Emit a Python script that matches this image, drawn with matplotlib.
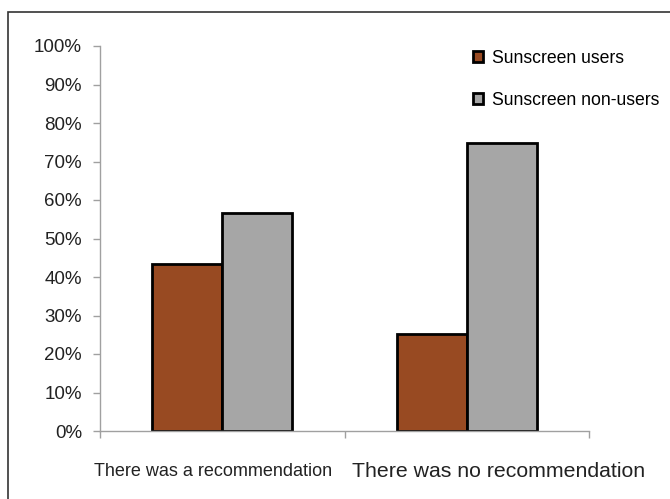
import matplotlib
matplotlib.use('Agg')
import matplotlib.pyplot as plt
from matplotlib.patches import Rectangle
from matplotlib.ticker import PercentFormatter

# data
categories = ['There was a recommendation', 'There was no recommendation']
users = [43.5, 25.3]
non_users = [56.5, 74.7]
yticks = [0, 10, 20, 30, 40, 50, 60, 70, 80, 90, 100]

brown = '#984A22'
grey = '#A6A6A6'
axis_grey = '#A0A0A0'
plt.rcParams['font.family'] = ['Liberation Sans', 'DejaVu Sans']

fig = plt.figure(figsize=(6.7, 4.99), dpi=100)
ax = fig.add_axes([100 / 670, 1 - 431 / 499, 489 / 670, 385 / 499])

# outer frame, only top and left edges fall inside the canvas
fig.patches.append(Rectangle((8 / 670, -0.1), 1.2, 1 - 12 / 499 + 0.1,
                             transform=fig.transFigure, fill=False,
                             edgecolor='#333333', linewidth=1.2))

w = 0.286
x = [0, 1]
b1 = ax.bar([i - w / 2 for i in x], users, width=w, color=brown,
            edgecolor='black', linewidth=2.0, label='Sunscreen users')
b2 = ax.bar([i + w / 2 for i in x], non_users, width=w, color=grey,
            edgecolor='black', linewidth=2.0, label='Sunscreen non-users')

ax.set_xlim(-0.5, 1.5)
ax.set_ylim(0, 100)
ax.set_yticks(yticks)
ax.yaxis.set_major_formatter(PercentFormatter(decimals=0))
ax.tick_params(axis='y', labelsize=13.5, colors=axis_grey, labelcolor='#222222',
               length=5, width=1, direction='out', pad=8)

# category boundary ticks on the x axis, labels underneath
ax.set_xticks([-0.5, 0.5, 1.5], minor=True)
ax.set_xticks(x)
ax.set_xticklabels([])
ax.tick_params(axis='x', which='major', length=0)
ax.tick_params(axis='x', which='minor', length=5, width=1, colors=axis_grey)
ax.text(-0.013, -0.105, categories[0], transform=ax.transAxes,
        ha='left', va='center', fontsize=13, color='#222222')
ax.text(0.515, -0.105, categories[1], transform=ax.transAxes,
        ha='left', va='center', fontsize=15.3, color='#222222')

for side in ['top', 'right']:
    ax.spines[side].set_visible(False)
for side in ['left', 'bottom']:
    ax.spines[side].set_color(axis_grey)
    ax.spines[side].set_linewidth(1)

fig.legend(handles=[b1, b2], loc='upper left', bbox_to_anchor=(457 / 670, 1 - 34 / 499),
           frameon=False, fontsize=12.7, handlelength=0.6, handleheight=0.6,
           labelspacing=1.4, handletextpad=0.5)

plt.savefig('out.png', dpi=100)
